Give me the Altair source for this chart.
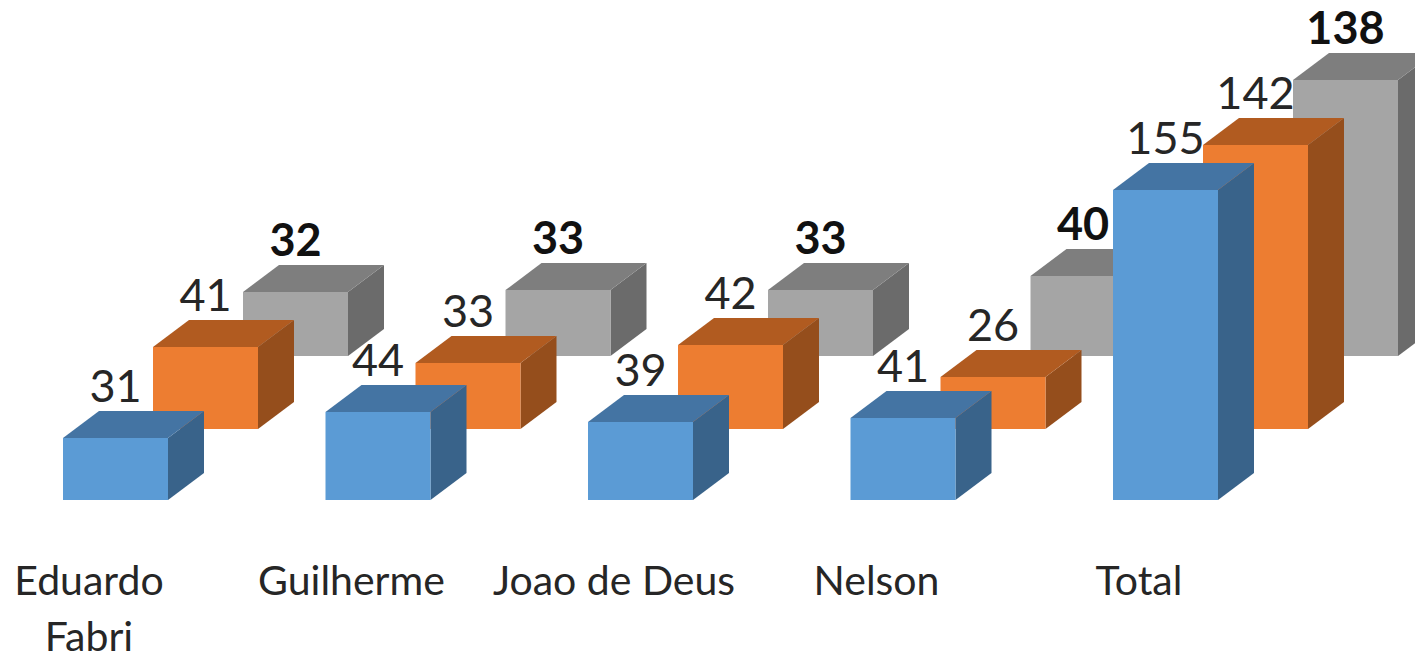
import altair as alt
import pandas as pd

categories = ["Eduardo\nFabri", "Guilherme", "Joao de Deus", "Nelson", "Total"]
series_a = [31, 44, 39, 41, 155]
series_b = [41, 33, 42, 26, 142]
series_c = [32, 33, 33, 40, 138]

# layout of the pseudo-3D columns
W, H = 1407, 649
X0, STEP, BAR, DX = 63, 262.5, 105, 36
DV = 13.5            # depth expressed in value units
UNIT = 2             # px per value
BASE_PX = 500
XDOM = [8, 8 + W]
YDOM = [(BASE_PX - (8 + H)) / UNIT, (BASE_PX - 8) / UNIT]

series = [
    dict(vals=series_c, off=180, lift=72, front="#A5A5A5", top="#7E7E7E", side="#6B6B6B", weight="bold"),
    dict(vals=series_b, off=90, lift=35.5, front="#ED7D31", top="#B15B20", side="#954E1C", weight="normal"),
    dict(vals=series_a, off=0, lift=0, front="#5B9BD5", top="#4474A3", side="#39638A", weight="normal"),
]

xs = alt.Scale(domain=XDOM, range=[0, W], nice=False, zero=False)
ys = alt.Scale(domain=YDOM, range=[H, 0], nice=False, zero=False)
X = lambda f: alt.X(f, type="quantitative", scale=xs, axis=None)
Y = lambda f: alt.Y(f, type="quantitative", scale=ys, axis=None, stack=None)

layers = []
labels = []
for s in series:
    front, side, top = [], [], []
    for i, v in enumerate(s["vals"]):
        x0 = X0 + STEP * i + s["off"]
        x1 = x0 + BAR
        b = s["lift"]
        t = b + v
        front.append(dict(x=x0, x2=x1, y=b, y2=t))
        side += [dict(k=i, x=x1, lo=b, hi=t), dict(k=i, x=x1 + DX, lo=b + DV, hi=t + DV)]
        top += [
            dict(k=i, x=x0, lo=t, hi=t),
            dict(k=i, x=x0 + DX, lo=t, hi=t + DV),
            dict(k=i, x=x1, lo=t, hi=t + DV),
            dict(k=i, x=x1 + DX, lo=t + DV, hi=t + DV),
        ]
        labels.append(dict(x=(x0 + x1) / 2, y=t + 18, t=str(v), w=s["weight"]))
    layers.append(alt.Chart(pd.DataFrame(side)).mark_area(color=s["side"], opacity=1).encode(
        x=X("x"), y=Y("lo"), y2=alt.Y2("hi"), detail="k:N"))
    for i in range(len(s["vals"])):
        layers.append(alt.Chart(pd.DataFrame(top[i * 4:i * 4 + 4])).mark_area(color=s["top"], opacity=1).encode(
            x=X("x"), y=Y("lo"), y2=alt.Y2("hi")))
    layers.append(alt.Chart(pd.DataFrame(front)).mark_rect(color=s["front"]).encode(
        x=X("x"), x2="x2", y=Y("y"), y2="y2"))

ldf = pd.DataFrame(labels)
for w, c in [("normal", "#262626"), ("bold", "#111111")]:
    layers.append(alt.Chart(ldf[ldf.w == w]).mark_text(
        font="Lato", fontSize=45, fontWeight=w, color=c, align="center", baseline="alphabetic"
    ).encode(x=X("x"), y=Y("y"), text="t:N"))

cat_df = pd.DataFrame({
    "x": [X0 + STEP * i + 26 for i in range(len(categories))],
    "y": [(BASE_PX - 595) / UNIT] * len(categories),
    "t": categories,
})
layers.append(alt.Chart(cat_df).mark_text(
    font="Lato", fontSize=41, color="#262626", align="center", baseline="alphabetic",
    lineBreak="\n", lineHeight=56
).encode(x=X("x"), y=Y("y"), text="t:N"))

chart = alt.layer(*layers).properties(
    width=W, height=H, padding=0, background="white",
    autosize=alt.AutoSizeParams(type="none")
).configure_view(stroke=None)

chart.save("out.html", embed_options={"renderer": "svg", "actions": False})
